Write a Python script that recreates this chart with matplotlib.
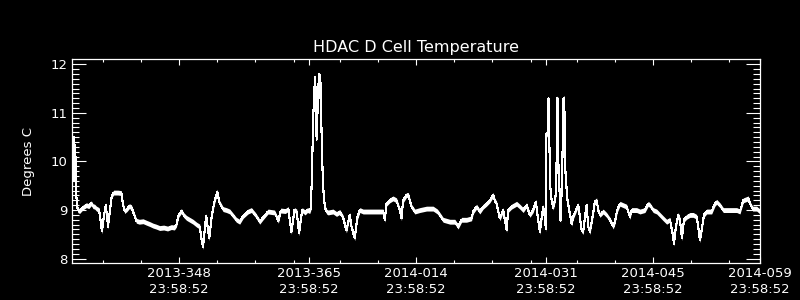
import numpy as np
import matplotlib
matplotlib.use("Agg")
import matplotlib.pyplot as plt

# ── data (x = day number, 2014 days continue after 365) ──
DAYS = [
    334.00, 334.10, 334.22, 334.32, 334.42, 334.55, 334.75, 335.00, 335.40, 335.88,
    336.20, 336.53, 336.75, 336.97, 337.20, 337.55, 337.92, 338.15, 338.41, 338.60,
    338.71, 339.00, 339.20, 339.45, 340.00, 340.45, 340.70, 340.89, 341.20, 341.50,
    341.77, 342.10, 342.42, 342.80, 343.30, 343.73, 344.20, 344.60, 345.00, 345.47,
    346.00, 346.50, 347.00, 347.40, 347.66, 347.95, 348.31, 348.60, 348.97, 349.40,
    349.83, 350.30, 350.71, 350.95, 351.14, 351.55, 351.95, 352.30, 352.60, 353.00,
    353.30, 353.76, 354.20, 354.64, 355.00, 355.50, 355.94, 356.40, 357.03, 357.47,
    358.00, 358.56, 359.00, 359.65, 360.50, 361.00, 361.30, 361.90, 362.30, 362.70,
    363.10, 363.40, 363.70, 364.10, 364.50, 364.80, 365.10, 365.25, 365.40, 365.55,
    365.70, 365.80, 365.90, 366.00, 366.15, 366.30, 366.40, 366.48, 366.58, 366.70,
    366.82, 366.95, 367.10, 367.30, 367.50, 367.80, 368.15, 368.60, 369.03, 369.46,
    369.90, 370.34, 370.56, 370.99, 371.30, 371.65, 372.08, 372.96, 373.80, 374.70,
    374.92, 375.14, 375.57, 376.00, 376.45, 376.88, 377.10, 377.32, 377.76, 378.00,
    378.19, 378.41, 378.85, 379.50, 380.38, 381.24, 381.80, 382.12, 382.55, 383.43,
    384.08, 384.51, 384.96, 385.61, 386.27, 386.48, 386.92, 387.35, 387.79, 388.23,
    388.66, 389.09, 389.30, 389.54, 389.97, 390.41, 390.85, 391.06, 391.50, 392.16,
    392.59, 393.02, 393.46, 393.90, 394.33, 394.68, 394.98, 395.20, 395.64, 395.86,
    395.99, 396.06, 396.20, 396.34, 396.42, 396.55, 396.74, 396.95, 397.17, 397.35,
    397.47, 397.55, 397.62, 397.80, 397.91, 398.10, 398.30, 398.40, 398.50, 398.78,
    399.04, 399.36, 399.56, 400.01, 400.22, 400.44, 400.66, 400.87, 401.10, 401.32,
    401.53, 401.75, 402.10, 402.40, 402.63, 402.84, 403.06, 403.49, 403.93, 404.37,
    404.80, 405.02, 405.32, 405.68, 406.11, 406.55, 406.98, 407.20, 407.86, 408.29,
    408.95, 409.38, 409.60, 410.03, 410.48, 410.91, 411.34, 411.79, 412.22, 412.57,
    412.74, 413.00, 413.31, 413.53, 413.79, 414.05, 414.40, 414.84, 415.27, 415.71,
    415.92, 416.14, 416.37, 416.67, 417.02, 417.68, 418.11, 418.33, 418.76, 419.20,
    420.07, 420.95, 421.38, 421.81, 422.47, 422.69, 423.04, 423.56, 424.00,
]
TEMPS = [
    9.70, 10.20, 10.50, 9.60, 10.35, 9.30, 9.00, 8.98, 9.05, 9.10,
    9.08, 9.14, 9.08, 9.07, 9.03, 9.00, 8.56, 8.85, 9.10, 8.85,
    8.66, 9.05, 9.30, 9.36, 9.36, 9.35, 9.10, 8.98, 9.02, 9.08,
    9.06, 8.92, 8.78, 8.76, 8.77, 8.74, 8.71, 8.68, 8.66, 8.63,
    8.64, 8.62, 8.65, 8.64, 8.70, 8.90, 8.98, 8.90, 8.84, 8.80,
    8.76, 8.70, 8.66, 8.40, 8.24, 8.88, 8.42, 8.90, 9.15, 9.38,
    9.15, 9.02, 9.00, 8.97, 8.90, 8.80, 8.76, 8.88, 8.97, 9.00,
    8.90, 8.76, 8.85, 8.97, 8.95, 8.78, 8.99, 8.98, 9.02, 8.55,
    9.00, 8.97, 8.52, 9.00, 8.95, 9.00, 8.98, 9.05, 9.80, 10.90,
    11.45, 11.74, 11.30, 10.45, 11.20, 11.80, 11.30, 11.78, 11.10, 10.20,
    9.60, 9.25, 9.05, 8.97, 8.95, 8.96, 8.97, 8.92, 8.96, 8.85,
    8.58, 8.90, 8.66, 8.42, 8.83, 9.00, 8.97, 8.97, 8.97, 8.97,
    8.80, 9.13, 9.20, 9.24, 9.20, 9.00, 8.83, 9.20, 9.31, 9.31,
    9.20, 9.07, 8.97, 9.00, 9.03, 9.03, 8.97, 8.90, 8.80, 8.76,
    8.76, 8.66, 8.80, 8.80, 8.83, 8.97, 9.07, 8.97, 9.07, 9.13,
    9.20, 9.31, 9.20, 9.13, 8.83, 9.00, 8.59, 9.00, 9.07, 9.13,
    9.07, 9.00, 9.10, 8.90, 9.00, 9.17, 8.80, 8.55, 9.07, 8.85,
    8.60, 10.58, 10.55, 11.30, 10.60, 9.50, 9.20, 9.05, 9.20, 9.40,
    11.30, 11.28, 10.00, 9.30, 8.78, 9.60, 11.30, 11.30, 9.90, 9.25,
    9.00, 8.72, 8.86, 9.03, 9.10, 8.86, 8.59, 8.55, 8.86, 9.10,
    8.66, 8.55, 8.86, 9.17, 9.20, 9.00, 8.90, 8.97, 8.90, 8.80,
    8.66, 8.76, 9.00, 9.13, 9.10, 9.07, 8.86, 9.00, 9.00, 8.97,
    9.00, 9.13, 9.10, 9.00, 8.97, 8.90, 8.83, 8.76, 8.80, 8.52,
    8.31, 8.66, 8.90, 8.80, 8.42, 8.80, 8.86, 8.90, 8.90, 8.86,
    8.66, 8.38, 8.59, 8.90, 8.97, 8.97, 9.13, 9.17, 9.10, 9.00,
    9.00, 9.00, 8.97, 9.20, 9.24, 9.13, 9.03, 9.03, 8.97,
]

TICK_DAYS = [348, 365, 379, 396, 410, 424]
TICK_LABELS = ["2013-348\n23:58:52", "2013-365\n23:58:52", "2014-014\n23:58:52",
               "2014-031\n23:58:52", "2014-045\n23:58:52", "2014-059\n23:58:52"]
MINOR_DAYS = [338, 343, 353, 358, 363, 369, 374, 384, 389, 394, 400, 405, 415, 420]

BAND = 0.05  # half-height of the jitter band (style)
FG = "white"

plt.rcParams["font.family"] = ["DejaVu Sans"]

fig = plt.figure(figsize=(8, 3), dpi=100, facecolor="black")
ax = fig.add_axes([0.09, 0.1233, 0.86, 0.68], facecolor="black")

t = np.array(DAYS)
y = np.array(TEMPS)
ax.fill_between(t, y - BAND, y + BAND, color=FG, lw=0, antialiased=False)
ax.plot(t, y, color=FG, lw=0.8, antialiased=False)

ax.set_xlim(334, 424)
ax.set_ylim(7.91, 12.11)

ax.set_xticks(TICK_DAYS)
ax.set_xticklabels(TICK_LABELS, fontsize=9.5, color=FG, linespacing=1.25)
ax.set_xticks(MINOR_DAYS, minor=True)
ax.set_yticks([8, 9, 10, 11, 12])
ax.set_yticklabels(["8", "9", "10", "11", "12"], fontsize=9.5, color=FG)
ax.set_yticks(np.arange(8.1, 12.0, 0.1), minor=True)

ax.tick_params(axis="x", which="major", direction="in", length=4, width=0.8,
               color=FG, top=True, bottom=True, pad=3)
ax.tick_params(axis="x", which="minor", direction="in", length=2, width=0.8,
               color=FG, top=True, bottom=True)
ax.tick_params(axis="y", which="major", direction="in", length=10, width=0.8,
               color=FG, left=True, right=True, pad=3)
ax.tick_params(axis="y", which="minor", direction="in", length=5, width=0.8,
               color=FG, left=True, right=True)

for sp in ax.spines.values():
    sp.set_color(FG)
    sp.set_linewidth(0.9)

ax.set_title("HDAC D Cell Temperature", color=FG, fontsize=11.5, pad=5)
ax.set_ylabel("Degrees C", color=FG, fontsize=9.5)
ax.yaxis.set_label_coords(-0.054, 0.5)

fig.savefig("out.png", dpi=100, facecolor="black")
